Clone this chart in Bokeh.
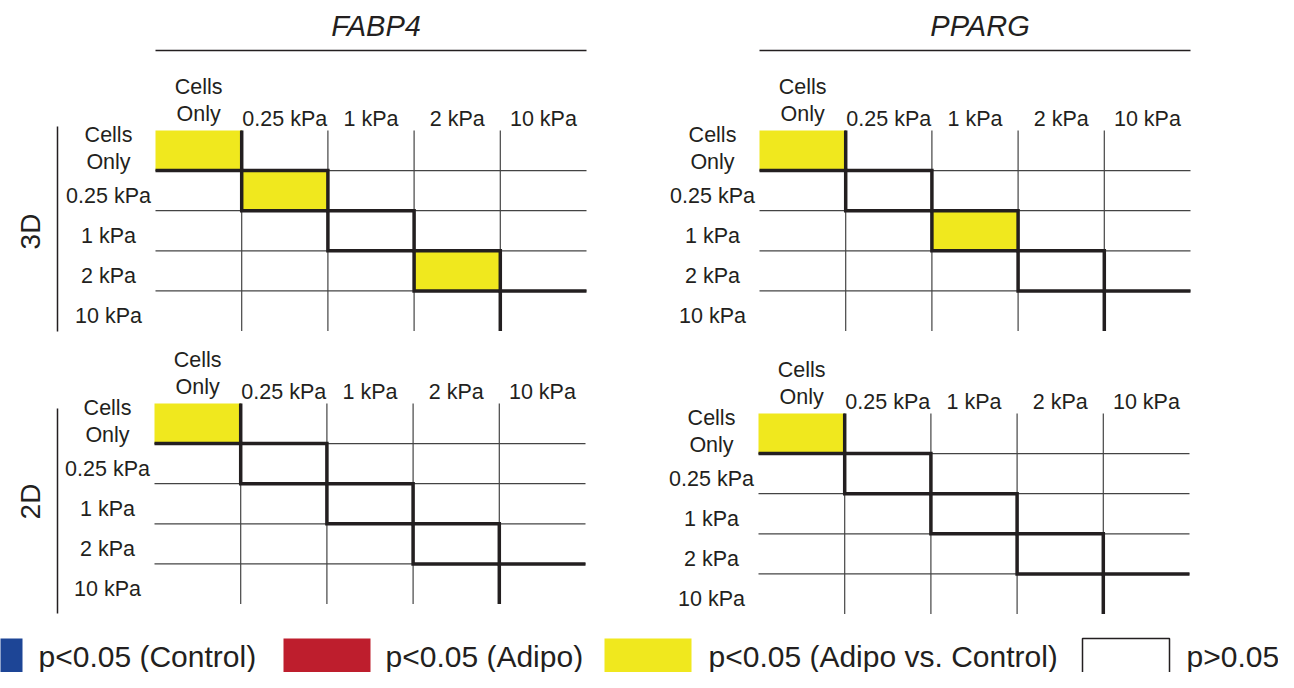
import numpy as np
from bokeh.plotting import figure
from bokeh.models import Range1d
from bokeh.core.properties import value
from bokeh.embed import file_html
from bokeh.resources import INLINE

# ---------------- data ----------------
stiffness = ["Cells\nOnly", "0.25 kPa", "1 kPa", "2 kPa", "10 kPa"]
genes = ["FABP4", "PPARG"]
conditions = ["3D", "2D"]
# significance of each diagonal comparison: "control", "adipo", "avc" (Adipo vs. Control), "ns"
fabp4_3d = ["avc", "avc", "ns", "avc", "ns"]
pparg_3d = ["avc", "ns", "avc", "ns", "ns"]
fabp4_2d = ["avc", "ns", "ns", "ns", "ns"]
pparg_2d = ["avc", "ns", "ns", "ns", "ns"]
legend_keys = ["control", "adipo", "avc", "ns"]
legend_labels = ["p<0.05 (Control)", "p<0.05 (Adipo)", "p<0.05 (Adipo vs. Control)", "p>0.05"]
legend_colors = ["#1D4596", "#BE1E2D", "#F0E81E", "#FFFFFF"]
color_of = dict(zip(legend_keys, legend_colors))

# ---------------- layout (picture pixel space) ----------------
CW, RH = 86.2, 40.1
panels = [
    ("FABP4", "3D", fabp4_3d, 155, 130),
    ("PPARG", "3D", pparg_3d, 759, 130),
    ("FABP4", "2D", fabp4_2d, 154, 403),
    ("PPARG", "2D", pparg_2d, 758, 413),
]
cond_label_pos = {"3D": (30, 231, 126, 331), "2D": (30, 501, 408, 613)}
BRACKET_X = 57
leg_swatch_x = [-65, 283, 604, 1082]
leg_text_x = [38, 385, 708, 1186]
LEG_Y0, LEG_Y1, LEG_TY = 638, 680, 656
INK = "#231F20"
FONT = value("Liberation Sans")

W, H = 1278, 672
p = figure(width=W, height=H, x_range=Range1d(0, W), y_range=Range1d(H, 0),
           output_backend="svg", toolbar_location=None, x_axis_type=None, y_axis_type=None,
           min_border=0, outline_line_color=None, background_fill_color="white")
p.grid.visible = False

n = len(stiffness)
for gene, cond, sig, x0, y0 in panels:
    xs = [x0 + CW * j for j in range(n + 1)]
    ys = [y0 + RH * i for i in range(n + 1)]
    # diagonal cells coloured by significance
    p.quad(left=xs[:-1], right=xs[1:], top=ys[:-1], bottom=ys[1:],
           fill_color=[color_of[s] for s in sig], line_color=None)
    # thin inner grid
    p.segment(x0=xs[1:-1], y0=[ys[0]] * (n - 1), x1=xs[1:-1], y1=[ys[-1]] * (n - 1),
              line_color="#444444", line_width=1.2)
    p.segment(x0=[xs[0]] * (n - 1), y0=ys[1:-1], x1=[xs[-1]] * (n - 1), y1=ys[1:-1],
              line_color="#444444", line_width=1.2)
    # thick staircase outlining the diagonal
    lower_x, lower_y, upper_x, upper_y = [xs[0]], [ys[1]], [xs[1]], [ys[0]]
    for k in range(1, n):
        lower_x += [xs[k], xs[k]]
        lower_y += [ys[k], ys[k + 1]]
        upper_x += [xs[k], xs[k + 1]]
        upper_y += [ys[k], ys[k]]
    upper_x[-1] = xs[n]
    p.multi_line(xs=[lower_x, upper_x], ys=[lower_y, upper_y], line_color=INK,
                 line_width=3.5, line_join="miter")
    # column headers
    p.text(x=[x0 + CW * (j + 0.5) for j in range(n)],
           y=[y0 - 30] + [y0 - 12] * (n - 1), text=stiffness,
           text_align="center", text_baseline="middle", text_font=FONT,
           text_font_size="21.5px", text_color=INK, text_line_height=1.1)
    # row labels
    p.text(x=[x0 - 47] * n,
           y=[y0 + 18] + [y0 + RH * (i + 0.5) + 5 for i in range(1, n)], text=stiffness,
           text_align="center", text_baseline="middle", text_font=FONT,
           text_font_size="21.5px", text_color=INK, text_line_height=1.1)
    if cond == "3D":
        p.text(x=[x0 + CW * n / 2 + 5], y=[25], text=[gene], text_align="center",
               text_baseline="middle", text_font=FONT, text_font_size="29px",
               text_font_style="italic", text_color=INK)
        p.segment(x0=[xs[0]], y0=[50], x1=[xs[-1]], y1=[50], line_color=INK, line_width=1.5)
    if gene == genes[0]:
        cx, cy, b0, b1 = cond_label_pos[cond]
        p.text(x=[cx], y=[cy], text=[cond], angle=np.pi / 2, text_align="center",
               text_baseline="middle", text_font=FONT, text_font_size="28px", text_color=INK)
        p.segment(x0=[BRACKET_X], y0=[b0], x1=[BRACKET_X], y1=[b1], line_color=INK, line_width=1.5)

# legend
p.quad(left=leg_swatch_x, right=[x + 87 for x in leg_swatch_x], top=[LEG_Y0] * 4,
       bottom=[LEG_Y1] * 4, fill_color=legend_colors,
       line_color=[None, None, None, INK], line_width=1.5)
p.text(x=leg_text_x, y=[LEG_TY] * 4, text=legend_labels, text_align="left",
       text_baseline="middle", text_font=FONT, text_font_size="30px", text_color=INK)

open("out.html", "w").write(file_html(p, INLINE))
